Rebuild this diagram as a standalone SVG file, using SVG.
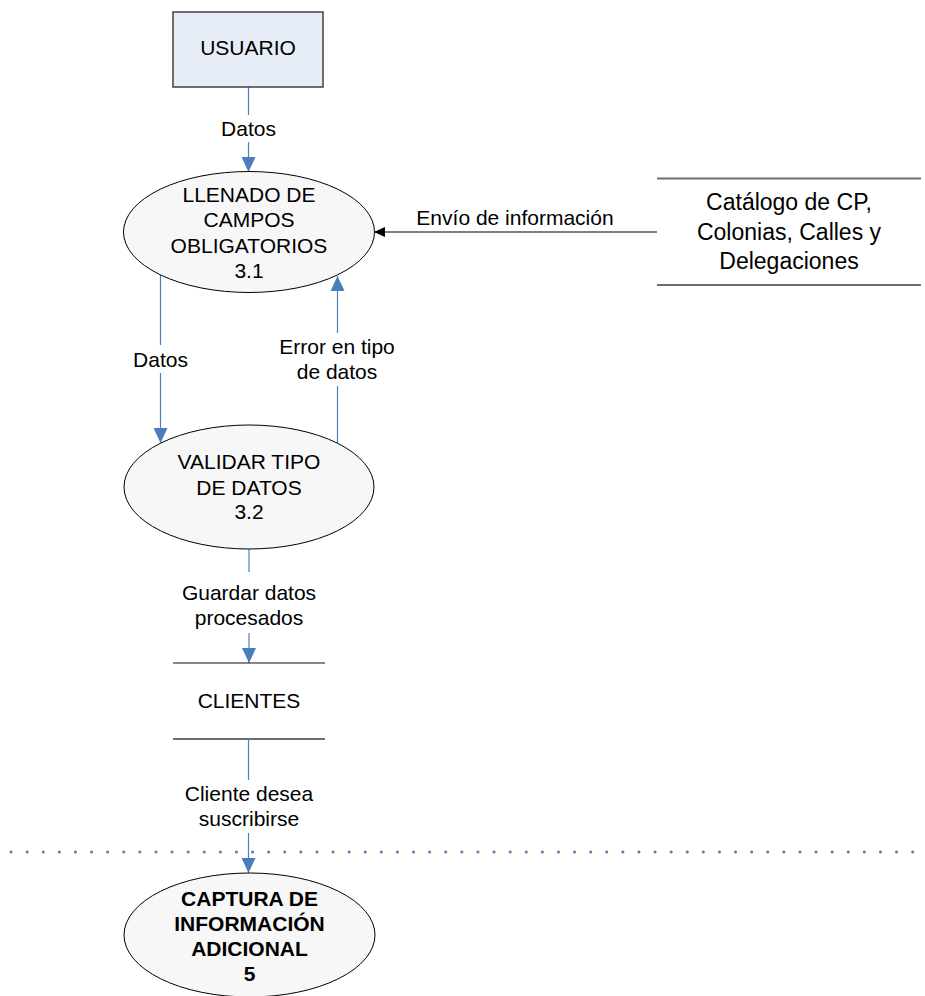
<svg xmlns="http://www.w3.org/2000/svg" width="925" height="996" viewBox="0 0 925 996">
<defs>
<style>
text{font-family:"Liberation Sans",Arial,sans-serif;font-size:21px;fill:#000;text-anchor:middle}
.b{font-weight:bold}
.big{font-size:23px}
.proc{fill:#F7F7F7;stroke:#000;stroke-width:1}
.flow{fill:none;stroke:#4F81BD;stroke-width:1.2}
.blk{fill:none;stroke:#000;stroke-width:1}
.store{stroke:#6E6E6E;stroke-width:1.8}
</style>
<marker id="ab" markerUnits="userSpaceOnUse" markerWidth="15" markerHeight="14" refX="15" refY="7" orient="auto">
<path d="M0,0 L15,7 L0,14 z" fill="#4A7EBB"/>
</marker>
<marker id="ak" markerUnits="userSpaceOnUse" markerWidth="11" markerHeight="10" refX="11" refY="5" orient="auto">
<path d="M0,0 L11,5 L0,10 z" fill="#000"/>
</marker>
</defs>
<rect width="925" height="996" fill="#fff"/>

<g id="connectors">
<path class="flow" d="M248.5 87 V115 M248.5 142 V172" marker-end="url(#ab)"/>
<path class="blk" d="M657 232 H374" marker-end="url(#ak)"/>
<path class="flow" d="M160.5 275 V345 M160.5 373 V443" marker-end="url(#ab)"/>
<path class="flow" d="M337.5 443 V386 M337.5 333 V276" marker-end="url(#ab)"/>
<path class="flow" d="M249 549 V572 M249 633 V663" marker-end="url(#ab)"/>
<path class="flow" d="M248.5 739 V780 M248.5 833 V873" marker-end="url(#ab)"/>
<text x="248.5" y="136">Datos</text>
<text x="515" y="225">Envío de información</text>
<text x="160.5" y="367">Datos</text>
<text x="337" y="354">Error en tipo</text>
<text x="337" y="379">de datos</text>
<text x="249" y="600">Guardar datos</text>
<text x="249" y="625">procesados</text>
<text x="249" y="801">Cliente desea</text>
<text x="249" y="826">suscribirse</text>
</g>

<g id="boundary">
<path d="M11 852 H922" fill="none" stroke="#4F81BD" stroke-width="3" stroke-linecap="round" stroke-dasharray="0.1 16"/>
</g>

<g id="usuario">
<rect x="173" y="12" width="150" height="75" fill="#E6EDF7" stroke="#404040" stroke-width="1.5"/>
<text x="248" y="55">USUARIO</text>
</g>

<g id="p3_1">
<ellipse class="proc" cx="249" cy="232" rx="125.5" ry="60.5"/>
<text x="249" y="201.5">LLENADO DE</text>
<text x="249" y="227">CAMPOS</text>
<text x="249" y="252.5">OBLIGATORIOS</text>
<text x="249" y="277.5">3.1</text>
</g>

<g id="catalogo">
<line class="store" x1="657" y1="178.5" x2="921" y2="178.5"/>
<line class="store" x1="657" y1="285" x2="921" y2="285"/>
<text class="big" x="789" y="210">Catálogo de CP,</text>
<text class="big" x="789" y="239.5">Colonias, Calles y</text>
<text class="big" x="789" y="268.5">Delegaciones</text>
</g>

<g id="p3_2">
<ellipse class="proc" cx="249" cy="487" rx="125" ry="62"/>
<text x="249" y="469">VALIDAR TIPO</text>
<text x="249" y="494.5">DE DATOS</text>
<text x="249" y="519">3.2</text>
</g>

<g id="clientes">
<line x1="173" y1="663" x2="325" y2="663" stroke="#111" stroke-width="1.2"/>
<line class="store" x1="173" y1="739" x2="325" y2="739"/>
<text x="249" y="708">CLIENTES</text>
</g>

<g id="p5">
<ellipse class="proc" cx="249.5" cy="935" rx="125.5" ry="62"/>
<text class="b" x="249.5" y="905.5">CAPTURA DE</text>
<text class="b" x="249.5" y="930.5">INFORMACIÓN</text>
<text class="b" x="249.5" y="955.5">ADICIONAL</text>
<text class="b" x="249.5" y="980.5">5</text>
</g>
</svg>
